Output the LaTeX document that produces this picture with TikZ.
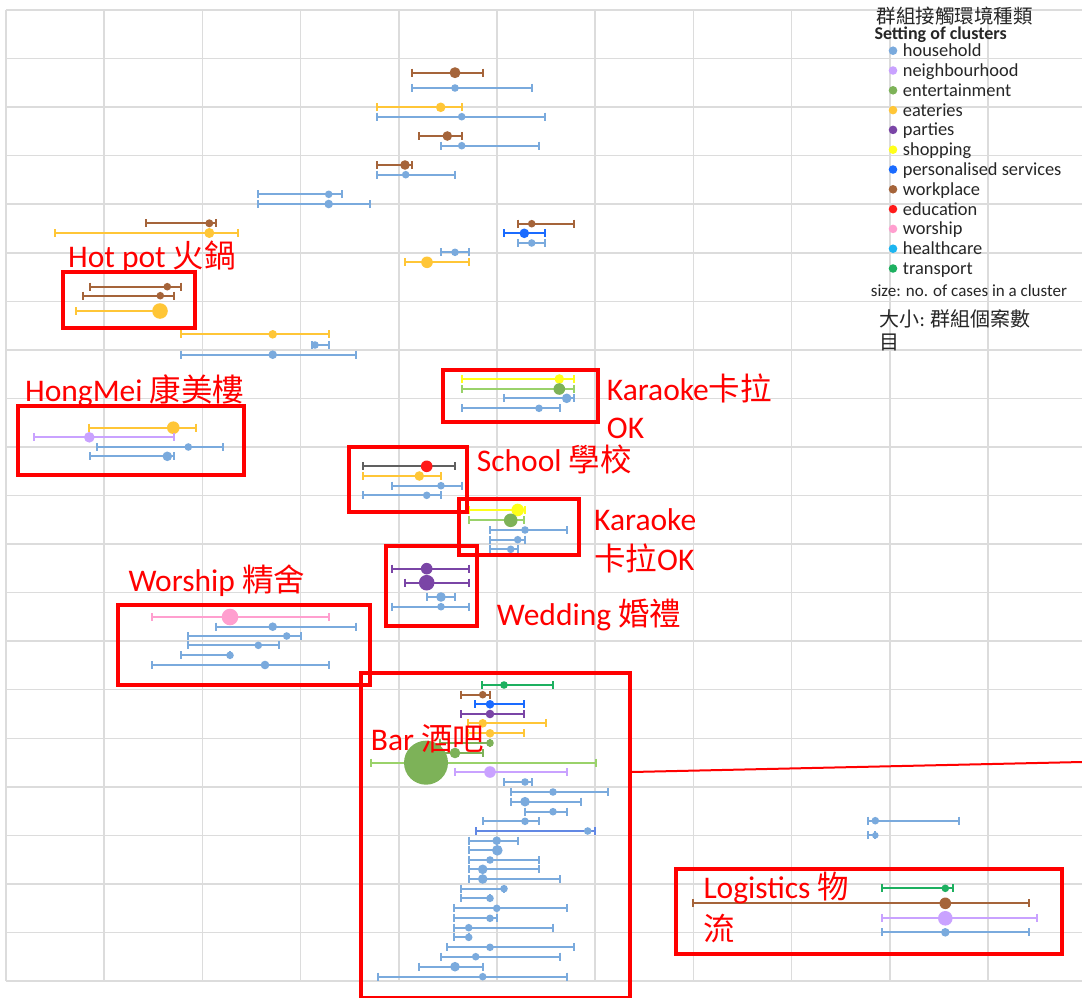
\documentclass[tikz,border=0pt]{standalone}
\usepackage{fontspec}
\setmainfont{Carlito}
\newfontfamily\cjk{Noto Sans CJK TC}
\definecolor{chh}{HTML}{7AAADD}
\definecolor{cnb}{HTML}{C9A2FF}
\definecolor{cen}{HTML}{7DB258}
\definecolor{cenl}{HTML}{9AD26A}
\definecolor{cea}{HTML}{FFC637}
\definecolor{cpa}{HTML}{7A45A6}
\definecolor{csh}{HTML}{FFFF1A}
\definecolor{cps}{HTML}{1A6BFF}
\definecolor{cwp}{HTML}{A5643A}
\definecolor{ced}{HTML}{FF1A1A}
\definecolor{cwo}{HTML}{FF9FCF}
\definecolor{chc}{HTML}{1CB5F0}
\definecolor{ctr}{HTML}{1DB060}
\definecolor{cgr}{HTML}{DCDCDC}
\definecolor{cdk}{HTML}{606060}
\newcommand{\errbar}[7]{%
  \draw[ebline,#5] (#2,#1) -- (#4,#1);
  \draw[ebline,#5] (#2,#1-4) -- (#2,#1+4);
  \draw[ebline,#5] (#4,#1-4) -- (#4,#1+4);
  \fill[#6] (#3,#1) circle[radius=#7pt];}
\tikzset{
  gridline/.style={cgr,line width=1.5pt},
  ebline/.style={line width=2pt},
  redbox/.style={draw=red,line width=4pt},
  lbl/.style={text=red,inner sep=0pt,font=\fontsize{31.5}{38}\selectfont},
  legtxt/.style={inner sep=0pt,text=black!85,font=\fontsize{18.4}{22}\selectfont},
  legdot/.style={radius=4.3pt}
}
\begin{document}
\begin{tikzpicture}[x=1pt,y=-1pt]
\useasboundingbox (0,0) rectangle (1082,998);
\fill[white] (0,0) rectangle (1082,998);
% grid
\foreach \k in {0,...,20} \draw[gridline] (6,{10+48.55*\k}) -- (1082,{10+48.55*\k});
\foreach \k in {0,...,10} \draw[gridline] ({6+98.2*\k},10) -- ({6+98.2*\k},981);
% top area
\errbar{72.7}{412.3}{455}{482.7}{cwp}{cwp}{5.5}
\errbar{88}{412.3}{455}{532}{chh}{chh}{3.8}
\errbar{107.3}{377.3}{440.7}{461.7}{cea}{cea}{4.8}
\errbar{116.7}{377.3}{461.7}{545.3}{chh}{chh}{3.8}
\errbar{136}{419}{447.3}{461.7}{cwp}{cwp}{4.8}
\errbar{145.7}{440.7}{461.7}{539}{chh}{chh}{3.8}
\errbar{165}{377.3}{405}{412.3}{cwp}{cwp}{4.8}
\errbar{174.7}{377.3}{405.7}{455}{chh}{chh}{3.8}
\errbar{194.3}{258.3}{328.7}{342}{chh}{chh}{3.8}
\errbar{204}{258.3}{328.7}{370.3}{chh}{chh}{4.3}
\errbar{223.3}{146}{209.3}{216}{cwp}{cwp}{4}
\errbar{233}{54.7}{209.3}{237.7}{cea}{cea}{5}
\errbar{223.7}{517.7}{531.7}{573.7}{cwp}{cwp}{3.8}
\errbar{233.3}{503.7}{524.3}{545.3}{cps}{cps}{4.8}
\errbar{243}{517.7}{531.7}{545.3}{chh}{chh}{3.8}
\errbar{252.3}{440.7}{455}{469}{chh}{chh}{3.8}
\errbar{262.3}{405}{427}{469}{cea}{cea}{5.8}
% hot pot
\errbar{286.7}{90}{167.3}{181}{cwp}{cwp}{3.8}
\errbar{295.7}{82.7}{160.3}{174}{cwp}{cwp}{3.8}
\errbar{311}{76}{160}{160}{cea}{cea}{7.8}
\errbar{334.3}{181}{272.7}{329}{cea}{cea}{4.3}
\errbar{345}{311.5}{315}{329}{chh}{chh}{3.8}
\errbar{354.7}{181}{272.7}{356}{chh}{chh}{4.3}
% karaoke 1
\errbar{379}{461.7}{559.3}{573.7}{csh}{csh}{4.8}
\errbar{389}{461.7}{559.3}{573.7}{cenl}{cen}{5.8}
\errbar{398.3}{504}{566.7}{573.7}{chh}{chh}{4.8}
\errbar{408.3}{461.7}{539}{559.7}{chh}{chh}{3.8}
% hongmei
\errbar{427.7}{89.3}{173.3}{195.7}{cea}{cea}{6.3}
\errbar{437.3}{34}{89.3}{174}{cnb}{cnb}{5.3}
\errbar{447}{96.7}{188.3}{223.3}{chh}{chh}{3.8}
\errbar{456.3}{90}{167.3}{174}{chh}{chh}{4.8}
% school
\errbar{466.3}{363.3}{426.7}{455}{cdk}{ced}{5.8}
\errbar{476}{363.3}{419.3}{440.7}{cea}{cea}{4.8}
\errbar{485.7}{391.7}{441}{461.7}{chh}{chh}{3.8}
\errbar{495.3}{363.3}{426.7}{440.7}{chh}{chh}{3.8}
% karaoke 2
\errbar{510}{469.3}{517.7}{525}{csh}{csh}{6.3}
\errbar{520.3}{469.3}{510.7}{524.3}{cenl}{cen}{6.8}
\errbar{530}{490}{525}{567.3}{chh}{chh}{3.8}
\errbar{539.7}{490}{517.7}{525}{chh}{chh}{3.8}
\errbar{549.3}{490}{510.7}{518.3}{chh}{chh}{3.8}
% wedding
\errbar{568.7}{392.3}{426.7}{469}{cpa}{cpa}{5.8}
\errbar{582.7}{405}{426.7}{469}{cpa}{cpa}{7.8}
\errbar{597}{426.7}{441}{455}{chh}{chh}{4.8}
\errbar{606.7}{392.3}{441}{469}{chh}{chh}{3.8}
% worship
\errbar{617}{152.3}{230}{329}{cwo}{cwo}{8.3}
\errbar{626.7}{216}{272.7}{356}{chh}{chh}{4.3}
\errbar{636}{188.3}{286.7}{300.7}{chh}{chh}{3.8}
\errbar{645.3}{188.3}{258.3}{279}{chh}{chh}{3.8}
\errbar{655.3}{181}{230}{230}{chh}{chh}{3.8}
\errbar{665}{152.3}{265}{329}{chh}{chh}{4.3}
% bar
\errbar{685}{482.3}{504}{553}{ctr}{ctr}{3.8}
\errbar{694.7}{461}{482.7}{490}{cwp}{cwp}{3.8}
\errbar{704.3}{475.3}{490}{524.3}{cps}{cps}{4.3}
\errbar{714}{461}{490}{524.3}{cpa}{cpa}{4.3}
\errbar{723.3}{468.3}{482.7}{545.7}{cea}{cea}{4.3}
\errbar{733.3}{468.3}{490}{524.3}{cea}{cea}{4.3}
\errbar{743}{440}{490}{490}{cen}{cen}{3.8}
\errbar{753}{419.3}{455}{482.7}{cen}{cen}{5.3}
\errbar{762.7}{370.7}{426}{595.7}{cenl}{cen}{22}
\errbar{772}{455}{490}{567.3}{cnb}{cnb}{5.8}
\errbar{782}{504}{525}{532.3}{chh}{chh}{3.8}
\errbar{792}{510.7}{553}{608.3}{chh}{chh}{3.8}
\errbar{801.7}{510.7}{525}{581}{chh}{chh}{4.8}
\errbar{811.7}{525}{553}{567.3}{chh}{chh}{3.8}
\errbar{821.3}{482.7}{525}{539}{chh}{chh}{3.8}
\errbar{831}{475.7}{587.7}{595}{chh!80!blue}{chh}{3.8}
\errbar{840.7}{468.7}{496.7}{518}{chh}{chh}{4.3}
\errbar{850.3}{468.7}{497.3}{500}{chh}{chh}{5.3}
\errbar{860}{468.7}{490}{539}{chh}{chh}{3.8}
\errbar{869.3}{468.7}{482.7}{539}{chh}{chh}{4.8}
\errbar{879}{468.7}{482.7}{560}{chh}{chh}{4.8}
\errbar{888.7}{461}{504}{504}{chh}{chh}{3.8}
\errbar{898.3}{461}{490}{490}{chh}{chh}{3.8}
\errbar{908.3}{454.3}{496.7}{567.3}{chh}{chh}{3.8}
\errbar{918.3}{454.3}{490}{496.7}{chh}{chh}{3.8}
\errbar{927.7}{454.3}{468.7}{553}{chh}{chh}{3.8}
\errbar{937.3}{454.3}{468.7}{468.7}{chh}{chh}{3.8}
\errbar{947.3}{447.3}{490}{573.7}{chh}{chh}{3.8}
\errbar{956.7}{440.7}{475.7}{560}{chh}{chh}{3.8}
\errbar{966.7}{419.3}{455}{482.7}{chh}{chh}{4.8}
\errbar{976.7}{377.7}{482.7}{567.3}{chh}{chh}{3.8}
% right
\errbar{820.7}{868.3}{875.3}{959.3}{chh}{chh}{3.8}
\errbar{835.3}{868.3}{875.3}{875.3}{chh}{chh}{3.3}
% logistics
\errbar{888.3}{882.3}{945.3}{953}{ctr}{ctr}{3.8}
\errbar{903.3}{692.7}{945.3}{1029}{cwp}{cwp}{5.8}
\errbar{918.3}{882.3}{945.3}{1036.7}{cnb}{cnb}{7.3}
\errbar{932.3}{882.3}{945.3}{1029}{chh}{chh}{4.3}
% red boxes
\draw[redbox] (63.3,271.7) rectangle (195,328);
\draw[redbox] (18.3,406) rectangle (244.3,475);
\draw[redbox] (442.7,370) rectangle (597.7,421.7);
\draw[redbox] (349,447.3) rectangle (467.3,512.3);
\draw[redbox] (459.3,499) rectangle (579.3,555);
\draw[redbox] (386,546) rectangle (476.7,625.7);
\draw[redbox] (118.3,605) rectangle (370,685);
\node[draw=red,line width=4pt,inner sep=0pt,minimum width=268.4pt,minimum height=325pt,anchor=north west] (barbox) at (359.3,671) {};
\draw[redbox] (676,869) rectangle (1061.7,954);
\coordinate (edge) at (1082,762);
\draw[red,line width=2pt] (barbox.east |- 0,772) -- (edge);
% labels
\node[lbl,anchor=base west] (hotpot) at (68,267) {Hot pot {\cjk 火鍋}};
\node[lbl,anchor=base west] (hongmei) at (25,401.7) {HongMei {\cjk 康美樓}};
\node[lbl,anchor=base west] (karaA) at (606.7,400) {Karaoke{\cjk 卡拉}};
\node[lbl,anchor=base west] (karaAb) at (606.7,438) {OK};
\node[lbl,anchor=base west] (school) at (476.7,471.7) {School {\cjk 學校}};
\node[lbl,anchor=base west] (karaB) at (594,530) {Karaoke};
\node[lbl,anchor=base west] (karaBb) at (594,570) {{\cjk 卡拉}OK};
\node[lbl,anchor=base west] (wedding) at (496.7,625) {Wedding {\cjk 婚禮}};
\node[lbl,anchor=base west] (worship) at (128.3,591.7) {Worship {\cjk 精舍}};
\node[lbl,anchor=base west] (bar) at (370.7,750) {Bar {\cjk 酒吧}};
\node[lbl,anchor=base west] (logi) at (703.3,898.3) {Logistics {\cjk 物}};
\node[lbl,anchor=base west] (logib) at (703.3,940) {{\cjk 流}};
% legend
\node[inner sep=0pt,anchor=base west,font=\cjk\fontsize{19.5}{24}\selectfont,text=black!85] (legtitle) at (876.7,23.5) {群組接觸環境種類};
\node[inner sep=0pt,anchor=base west,font=\bfseries\fontsize{18}{22}\selectfont,text=black!85] (legsub) at (874.3,39.5) {Setting of clusters};
\foreach \c/\t [count=\i from 0] in {chh/household,cnb/neighbourhood,cen/entertainment,cea/eateries,cpa/parties,csh/shopping,cps/personalised services,cwp/workplace,ced/education,cwo/worship,chc/healthcare,ctr/transport}{
  \fill[\c] (893,{50.7+19.8*\i}) circle[legdot];
  \node[legtxt,anchor=base west] (leg\i) at (902.7,{56.7+19.8*\i}) {\t};
}
\node[inner sep=0pt,anchor=base west,font=\fontsize{17}{20}\selectfont,text=black!85] (legsize) at (870.7,296.7) {size: no. of cases in a cluster};
\node[inner sep=0pt,anchor=base west,font=\fontsize{20}{24}\selectfont,text=black!85] (legsizec) at (879.3,326) {{\cjk 大小}: {\cjk 群組個案數}};
\node[inner sep=0pt,anchor=base west,font=\cjk\fontsize{20}{24}\selectfont,text=black!85] (legsized) at (879.3,349.5) {目};
\end{tikzpicture}
\end{document}
